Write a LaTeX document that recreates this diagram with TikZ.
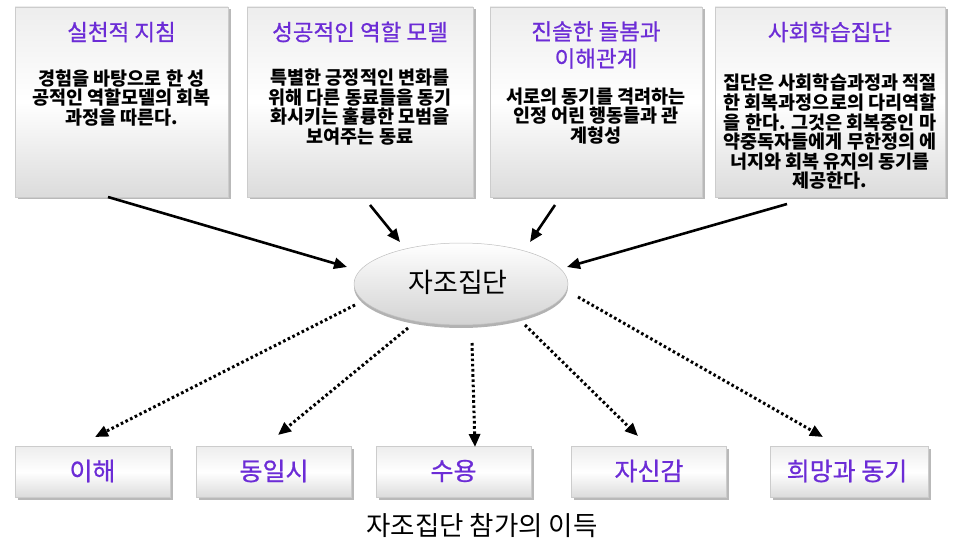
\documentclass[tikz,border=0pt]{standalone}
\usepackage{fontspec}
\setmainfont{Noto Sans CJK KR}
\newfontfamily\semibf{Noto Sans CJK KR}[FakeBold=0.7]
\usetikzlibrary{shapes.geometric,arrows.meta,shadows}
\definecolor{titlec}{RGB}{108,44,214}
\tikzset{
  topbox/.style={rectangle, draw=gray!40, line width=0.6pt, inner sep=0pt,
    top color=gray!14, bottom color=gray!28, middle color=white,
    general shadow={fill=gray!55, shadow xshift=2.5pt, shadow yshift=-2.5pt}},
  botbox/.style={topbox, minimum width=155pt, minimum height=51pt},
  ttl/.style={text=titlec, font=\semibf\fontsize{22.5}{27}\selectfont, align=center, inner sep=0pt},
  body/.style={font=\bfseries\fontsize{18.5}{19.6}\selectfont, align=center, inner sep=0pt},
  lbl/.style={text=titlec, font=\semibf\fontsize{25}{29}\selectfont, inner sep=0pt},
  solidarrow/.style={-{Triangle[length=13pt,width=11pt]}, line width=2.6pt},
  dotarrow/.style={-{Triangle[length=13pt,width=11pt]}, line width=3pt, dash pattern=on 2.6pt off 2.6pt},
}
\begin{document}
\begin{tikzpicture}[x=1pt,y=-1pt]
\useasboundingbox (0,0) rectangle (953,548);
% top boxes
\node[topbox, minimum width=213pt, minimum height=190pt] (b1) at (121.5,102) {};
\node[topbox, minimum width=226pt, minimum height=190pt] (b2) at (360,102) {};
\node[topbox, minimum width=212pt, minimum height=190pt] (b3) at (596,102) {};
\node[topbox, minimum width=230pt, minimum height=190pt] (b4) at (830,102) {};
\node[ttl] (t1) at (121.5,32) {실천적 지침};
\node[ttl] (t2) at (360,32) {성공적인 역할 모델};
\node[ttl] (t3) at (596,45) {진솔한 돌봄과\\이해관계};
\node[ttl] (t4) at (830,32) {사회학습집단};
\node[body] (d1) at (121.5,98) {경험을 바탕으로 한 성\\공적인 역할모델의 회복\\과정을 따른다.};
\node[body] (d2) at (360,107) {특별한 긍정적인 변화를\\위해 다른 동료들을 동기\\화시키는 훌륭한 모범을\\보여주는 동료};
\node[body] (d3) at (596,116) {서로의 동기를 격려하는\\인정 어린 행동들과 관\\계형성};
\node[body] (d4) at (830,132) {집단은 사회학습과정과 적절\\한 회복과정으로의 다리역할\\을 한다. 그것은 회복중인 마\\약중독자들에게 무한정의 에\\너지와 회복 유지의 동기를\\제공한다.};
% central ellipse
\node[ellipse, minimum width=214pt, minimum height=82pt, draw=gray!50, line width=0.5pt,
  top color=white, bottom color=gray!35,
  general shadow={fill=gray!60, shadow yshift=-3pt}] (c) at (461,284) {};
\node[font=\fontsize{27}{30}\selectfont, inner sep=0pt] (ct) at (458,282) {자조집단};
% bottom boxes
\node[botbox] (e1) at (92.5,472) {};
\node[botbox] (e2) at (274,472) {};
\node[botbox] (e3) at (453.5,472) {};
\node[botbox] (e4) at (649,472) {};
\node[botbox, minimum width=158pt] (e5) at (849,472) {};
\node[lbl] (l1) at (92.5,471) {이해};
\node[lbl] (l2) at (274,471) {동일시};
\node[lbl] (l3) at (453.5,471) {수용};
\node[lbl] (l4) at (649,471) {자신감};
\node[lbl] (l5) at (847,471) {희망과 동기};
\node[font=\fontsize{26.5}{30}\selectfont, inner sep=0pt] (cap) at (482,526) {자조집단 참가의 이득};
% connector end points
\coordinate (s1) at (108,197);  \coordinate (p1) at (347,267);
\coordinate (s2) at (370,205);  \coordinate (p2) at (400,242);
\coordinate (s3) at (555,205);  \coordinate (p3) at (530,242);
\coordinate (s4) at (787,204);  \coordinate (p4) at (567,267);
\coordinate (o1) at (355,305);  \coordinate (q1) at (95,437);
\coordinate (o2) at (408,328);  \coordinate (q2) at (278,435);
\coordinate (o3) at (472,343);  \coordinate (q3) at (475,447);
\coordinate (o4) at (525,325);  \coordinate (q4) at (638,436);
\coordinate (o5) at (578,297);  \coordinate (q5) at (823,437);
\draw[solidarrow] (s1) -- (p1);
\draw[solidarrow] (s2) -- (p2);
\draw[solidarrow] (s3) -- (p3);
\draw[solidarrow] (s4) -- (p4);
\draw[dotarrow] (o1) -- (q1);
\draw[dotarrow] (o2) -- (q2);
\draw[dotarrow] (o3) -- (q3);
\draw[dotarrow] (o4) -- (q4);
\draw[dotarrow] (o5) -- (q5);
\end{tikzpicture}
\end{document}
